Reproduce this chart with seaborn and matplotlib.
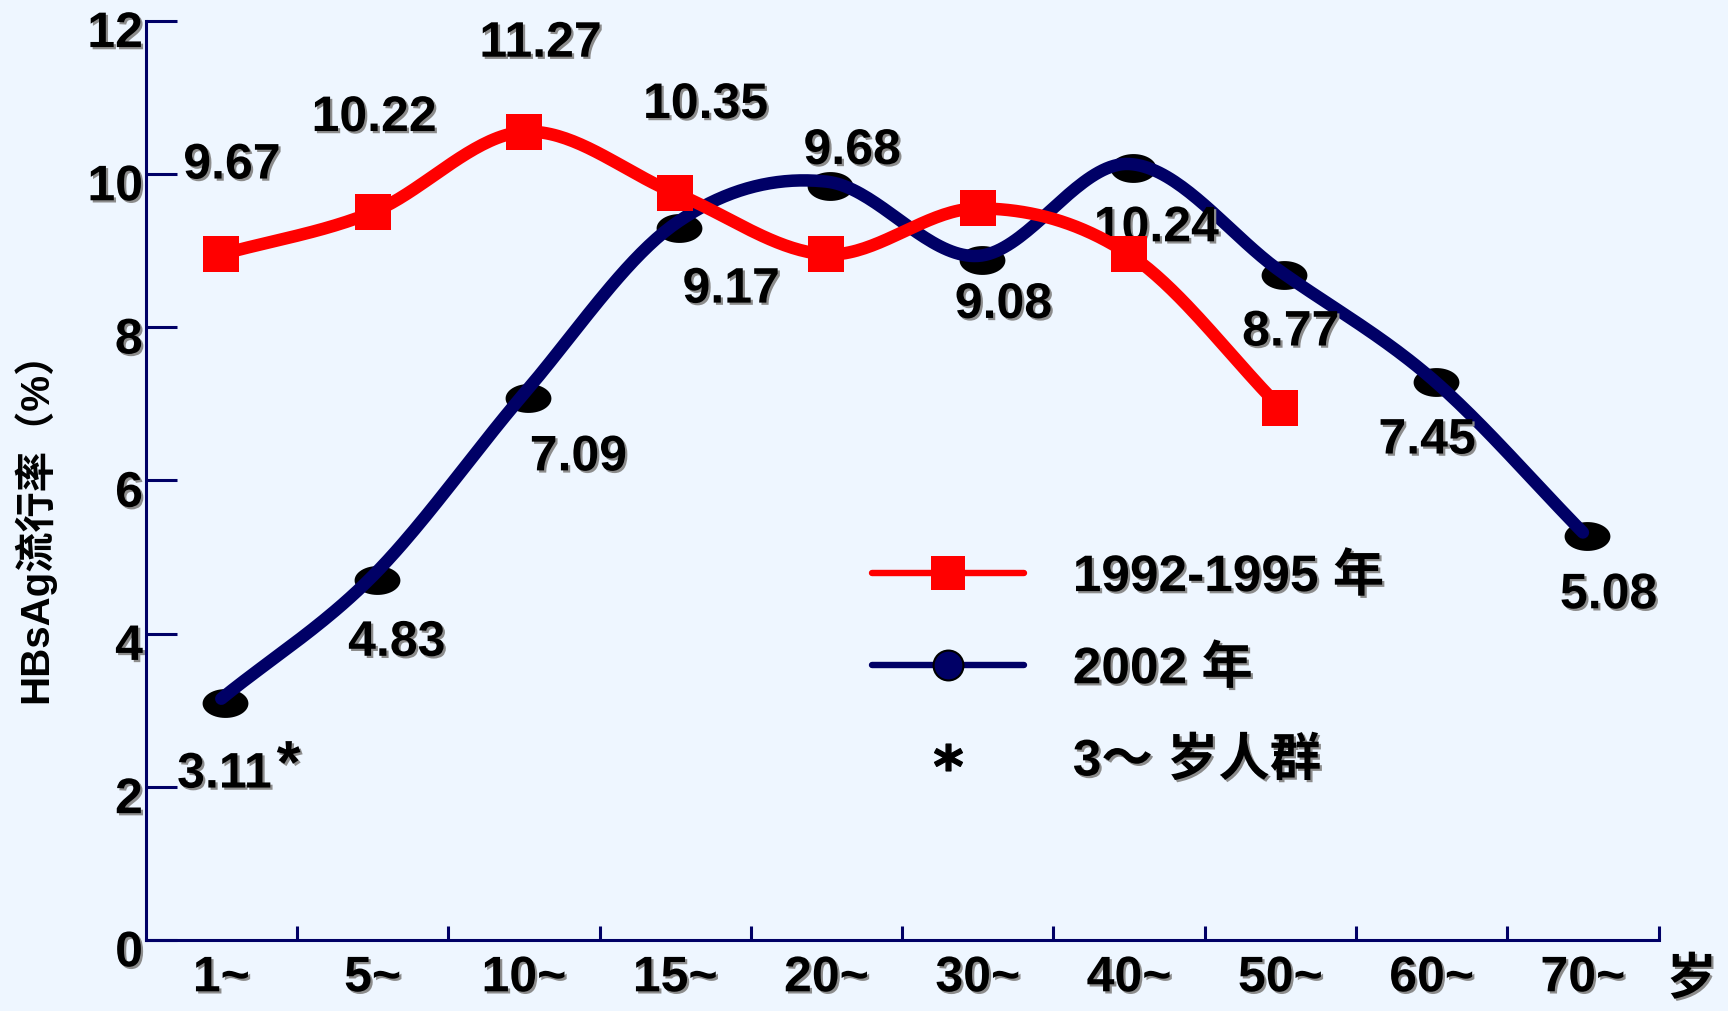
import numpy as np
import pandas as pd
import matplotlib
matplotlib.use("Agg")
import matplotlib.pyplot as plt
import matplotlib.patheffects as pe
from matplotlib.path import Path
from matplotlib.lines import Line2D
from matplotlib.transforms import ScaledTranslation, offset_copy
import seaborn as sns

# ---- data ----
age_groups = ['1~', '5~', '10~', '15~', '20~', '30~', '40~', '50~', '60~', '70~']
red_values = [8.95, 9.5, 10.55, 9.75, 8.95, 9.55, 8.95, 6.95]          # 1992-1995
blue_values = [3.15, 4.75, 7.13, 9.35, 9.9, 8.93, 10.13, 8.73, 7.33, 5.32]  # 2002
red_labels = ['9.67', '10.22', '11.27', '10.35']
blue_labels = ['3.11', '4.83', '7.09', '9.17', '9.68', '9.08', '10.24', '8.77', '7.45', '5.08']
y_ticks = [0, 2, 4, 6, 8, 10, 12]
legend_labels = ['1992-1995 年', '2002 年', '3～ 岁人群']

# label anchor positions (x index, y value)
red_label_pos = [(0.07, 10.11), (1.01, 10.73), (2.11, 11.70), (3.20, 10.90)]
blue_label_pos = [(0.02, 2.16), (1.16, 3.88), (2.36, 6.30), (3.37, 8.49), (4.17, 10.30),
                  (5.17, 8.29), (6.18, 9.29), (7.07, 7.93), (7.97, 6.52), (9.17, 4.50)]

BG = '#EEF6FF'
NAVY = '#000066'
RED = '#FF0000'


def smooth(ys, n=40):
    # catmull-rom curve through the points (drawing only)
    p = np.asarray(ys, dtype=float)
    x = np.arange(len(p), dtype=float)
    m = np.gradient(p)
    xs, out = [], []
    for i in range(len(p) - 1):
        t = np.linspace(0, 1, n, endpoint=(i == len(p) - 2))
        h00 = 2 * t**3 - 3 * t**2 + 1
        h10 = t**3 - 2 * t**2 + t
        h01 = -2 * t**3 + 3 * t**2
        h11 = t**3 - t**2
        out.append(h00 * p[i] + h10 * m[i] + h01 * p[i + 1] + h11 * m[i + 1])
        xs.append(x[i] + t)
    return np.concatenate(xs), np.concatenate(out)


sns.set_style('ticks')
plt.rcParams['font.family'] = ['Liberation Sans', 'Noto Sans CJK SC']
plt.rcParams['font.weight'] = 'bold'
for key in ['text.color', 'axes.labelcolor', 'xtick.labelcolor', 'ytick.labelcolor']:
    plt.rcParams[key] = 'black'

shadow = [pe.withSimplePatchShadow(offset=(1.6, -1.6), shadow_rgbFace='#8C8C8C', alpha=1.0)]

fig = plt.figure(figsize=(17.28, 10.11), dpi=100, facecolor=BG)
ax = fig.add_axes([0.0843, 0.0702, 0.9598 - 0.0843, 0.9795 - 0.0702])
ax.set_facecolor(BG)

# curves
bx, by = smooth(blue_values)
rx, ry = smooth(red_values)
sns.lineplot(x=bx, y=by, sort=False, estimator=None, color=NAVY, lw=9, ax=ax, zorder=2)
sns.lineplot(x=rx, y=ry, sort=False, estimator=None, color=RED, lw=9, ax=ax, zorder=4)

# markers
t = np.linspace(0, 2 * np.pi, 60)
ellipse = Path(np.column_stack([np.cos(t), 0.63 * np.sin(t)]))
blue_df = pd.DataFrame({'x': np.arange(len(blue_values)), 'y': blue_values})
red_df = pd.DataFrame({'x': np.arange(len(red_values)), 'y': red_values})
sns.scatterplot(data=blue_df, x='x', y='y', marker=ellipse, s=33 ** 2, color='black',
                linewidth=0, ax=ax, zorder=1.5,
                transform=offset_copy(ax.transData, fig=fig, x=4, y=-4, units='dots'))
sns.scatterplot(data=red_df, x='x', y='y', marker='s', s=26 ** 2, color=RED,
                linewidth=0, ax=ax, zorder=5)

# value labels
for txt, (x, y) in zip(red_labels, red_label_pos):
    ax.text(x, y, txt, ha='center', va='center', fontsize=36, fontweight='bold',
            color='black', path_effects=shadow, zorder=3)
for txt, (x, y) in zip(blue_labels, blue_label_pos):
    ax.text(x, y, txt, ha='center', va='center', fontsize=36, fontweight='bold',
            color='black', path_effects=shadow, zorder=3)
ax.text(0.445, 2.25, '*', ha='center', va='center', fontsize=44, fontweight='bold',
        color='black', path_effects=shadow, zorder=3)

# axes
ax.set_xlim(-0.5, len(age_groups) - 0.5)
ax.set_ylim(0, 12)
ax.set_xticks(range(len(age_groups)))
ax.set_xticklabels(age_groups)
ax.set_xticks(np.arange(0.5, len(age_groups), 1.0), minor=True)
ax.set_yticks(y_ticks)
ax.set_yticklabels([str(v) for v in y_ticks])
ax.tick_params(axis='x', which='major', length=0, pad=11, labelsize=36)
ax.tick_params(axis='x', which='minor', direction='in', length=10, width=2.2, color=NAVY)
ax.tick_params(axis='y', direction='in', length=22, width=2.2, color=NAVY, pad=2, labelsize=36)
for sp in ['top', 'right']:
    ax.spines[sp].set_visible(False)
for sp in ['left', 'bottom']:
    ax.spines[sp].set_color(NAVY)
    ax.spines[sp].set_linewidth(2.2)
for lab in ax.get_yticklabels():
    lab.set_transform(lab.get_transform() + ScaledTranslation(0, -6 / 72, fig.dpi_scale_trans))
    lab.set_fontweight('bold')
    lab.set_path_effects(shadow)
for lab in ax.get_xticklabels():
    lab.set_fontweight('bold')
    lab.set_path_effects(shadow)

ax.set_xlabel('')
ax.set_ylabel('HBsAg流行率（%）', fontsize=29, fontweight='bold')
ax.yaxis.set_label_coords(-0.06, 0.46)
fig.text(0.979, 0.03, '岁', ha='center', va='center', fontsize=36, fontweight='bold',
         path_effects=shadow)

# legend
handles = [
    Line2D([], [], color=RED, lw=4.6, marker='s', markersize=24, markeredgewidth=0),
    Line2D([], [], color=NAVY, lw=4.6, marker='o', markersize=21.5,
           markerfacecolor=NAVY, markeredgecolor='black', markeredgewidth=1.5),
    Line2D([], [], ls='none', marker='$*$', markersize=20, color='black'),
]
leg = ax.legend(handles, legend_labels, loc='center left', bbox_to_anchor=(0.480, 0.294),
                frameon=False, fontsize=37, handlelength=2.96, handletextpad=0.95,
                labelspacing=0.84, borderpad=0, borderaxespad=0)
for t_ in leg.get_texts():
    t_.set_fontweight('bold')
    t_.set_color('black')
    t_.set_path_effects(shadow)

fig.savefig('out.png', dpi=100, facecolor=BG)
